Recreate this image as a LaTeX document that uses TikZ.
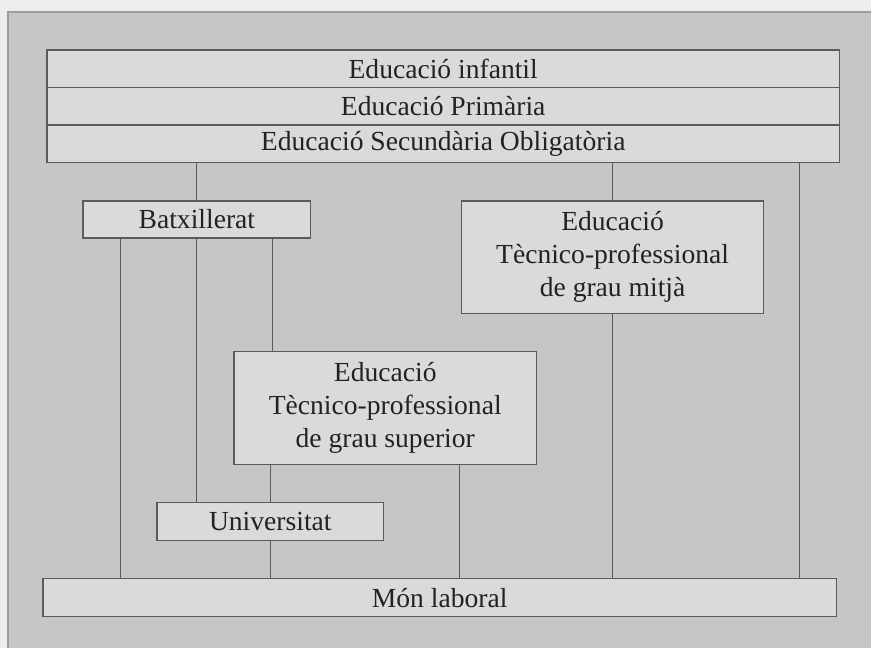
\documentclass[tikz,border=0pt]{standalone}
\usepackage{fontspec}
\setmainfont{Liberation Serif}
\usepackage{tikz}
\definecolor{paper}{HTML}{ECEEED}
\definecolor{panel}{HTML}{C4C7C6}
\definecolor{boxfill}{HTML}{D9DBDA}
\definecolor{ink}{HTML}{222222}
\definecolor{rule}{HTML}{5A5C5B}

\begin{document}
\begin{tikzpicture}[
  x=0.5pt, y=-0.5pt,
  stage/.style={draw=rule, line width=0.7pt, fill=boxfill, align=center,
                text=ink, inner sep=0pt, font=\fontsize{13.8}{16.5}\selectfont},
  link/.style={draw=rule, line width=0.5pt},
]

% Background panel
\fill[paper] (0,0) rectangle (872,648);
\fill[panel] (8,12) rectangle (872,648);
\draw[rule!60, line width=0.6pt] (8,648) -- (8,12) -- (872,12);
\useasboundingbox (0,0) rectangle (872,648);

% Compulsory stages
\node[stage, minimum width=396.5pt, minimum height=18.85pt] (infantil) at (443.5,69)
  {Educació infantil};
\node[stage, minimum width=396.5pt, minimum height=18.85pt] (primaria) at (443.5,106.5)
  {Educació Primària};
\node[stage, minimum width=396.5pt, minimum height=18.85pt] (eso) at (443.5,144)
  {Educació Secundària Obligatòria};

% Post-compulsory stages
\node[stage, minimum width=114pt, minimum height=18.5pt] (batx) at (197,219.5)
  {Batxillerat};
\node[stage, minimum width=151pt, minimum height=56.5pt] (mitja) at (613,257.5)
  {Educació\\Tècnico-professional\\de grau mitjà};
\node[stage, minimum width=151.5pt, minimum height=56.5pt] (superior) at (385.5,408.5)
  {Educació\\Tècnico-professional\\de grau superior};
\node[stage, minimum width=113.5pt, minimum height=19pt] (univ) at (270.5,522)
  {Universitat};
\node[stage, minimum width=397pt, minimum height=19pt] (mon) at (440,598)
  {Món laboral};

% Column positions of the links
\coordinate (colA) at (121,0);
\coordinate (colB) at (273,0);
\coordinate (colC) at (271,0);
\coordinate (colD) at (460,0);
\coordinate (colE) at (800,0);

% Links
\draw[link] (eso.south -| batx.north) -- (batx.north);
\draw[link] (eso.south -| mitja.north) -- (mitja.north);
\draw[link] (eso.south -| colE) -- (mon.north -| colE);
\draw[link] (mitja.south) -- (mitja.south |- mon.north);
\draw[link] (batx.south -| colA) -- (mon.north -| colA);
\draw[link] (batx.south) -- (batx.south |- univ.north);
\draw[link] (batx.south -| colB) -- (superior.north -| colB);
\draw[link] (superior.south -| colC) -- (univ.north -| colC);
\draw[link] (univ.south -| colC) -- (mon.north -| colC);
\draw[link] (superior.south -| colD) -- (mon.north -| colD);

\end{tikzpicture}
\end{document}
